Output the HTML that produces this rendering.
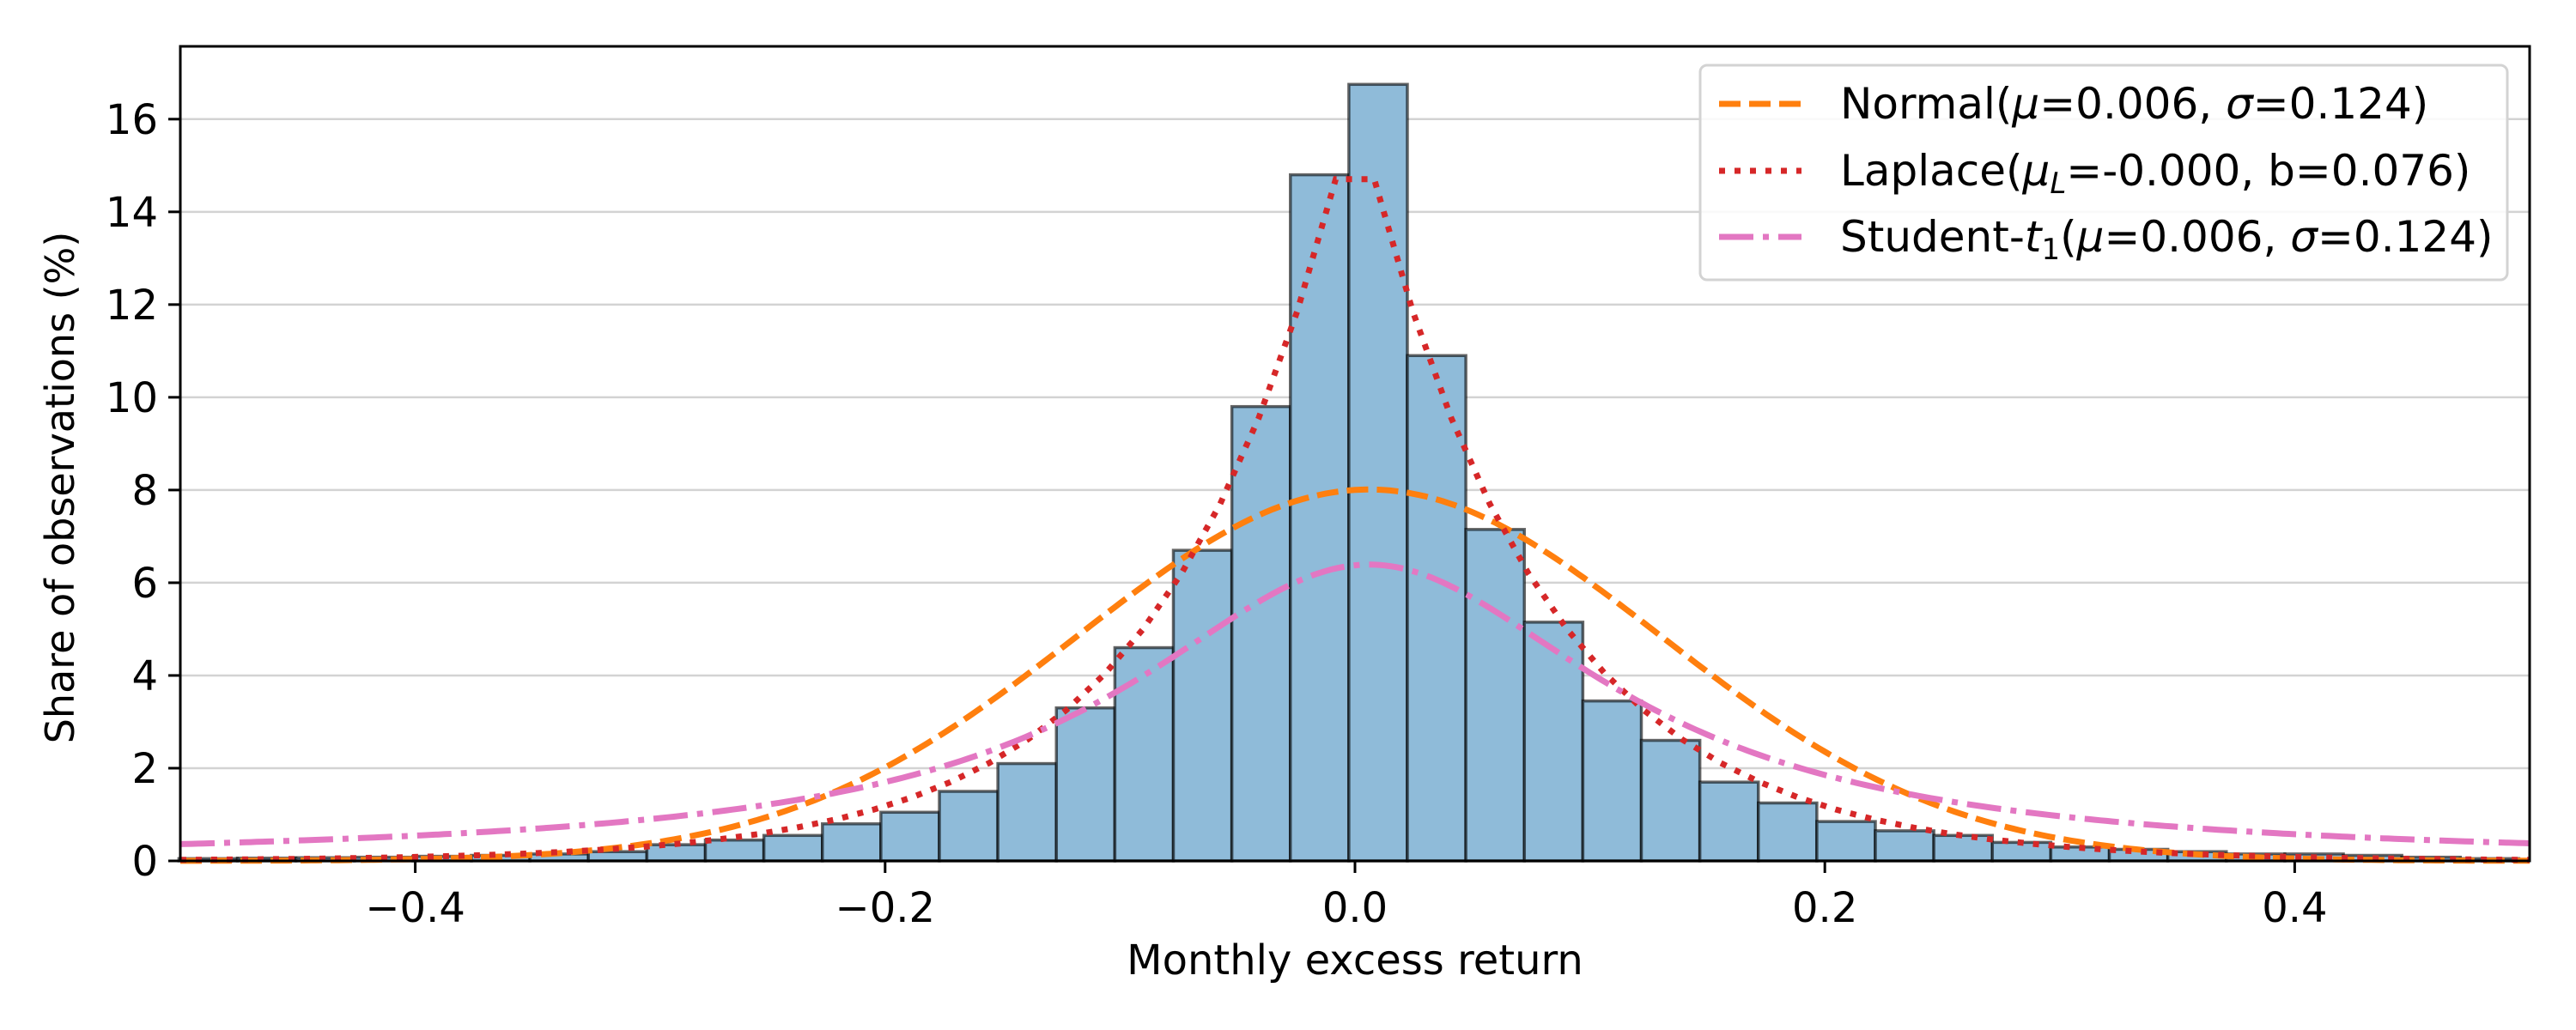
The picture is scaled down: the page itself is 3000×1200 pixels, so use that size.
<!DOCTYPE html>
<html><head><meta charset="utf-8">
<style>
html,body{margin:0;padding:0;background:#fff;}
svg{display:block;font-family:"DejaVu Sans","Liberation Sans",sans-serif;}
</style></head>
<body>
<svg id="chart" width="3000" height="1200" viewBox="0 0 3000 1200" xmlns="http://www.w3.org/2000/svg">
<rect x="0" y="0" width="3000" height="1200" fill="#fff"/>
<g id="grid"></g>
<g id="bars"></g>
<g id="curves"></g>
<rect x="210" y="54" width="2736" height="949" fill="none" stroke="#000" stroke-width="3"/>
<g id="xticks"></g>
<g id="yticks"></g>
<text x="1578" y="1135" font-size="48" text-anchor="middle">Monthly excess return</text>
<text transform="translate(86,568) rotate(-90)" font-size="46" text-anchor="middle">Share of observations (%)</text>
<g>
<rect x="1980" y="76" width="940" height="250" rx="8" fill="#fff" fill-opacity="0.85" stroke="#d3d3d3" stroke-width="3"/>
<line x1="2002" y1="121" x2="2098" y2="121" stroke="#ff7f0e" stroke-width="7" stroke-dasharray="25,10"/>
<text x="2143" y="138" font-size="50">Normal(<tspan font-style="italic">μ</tspan>=0.006, <tspan font-style="italic">σ</tspan>=0.124)</text>
<line x1="2002" y1="199" x2="2098" y2="199" stroke="#d62728" stroke-width="7" stroke-dasharray="7,11"/>
<text x="2143" y="216" font-size="50">Laplace(<tspan font-style="italic">μ</tspan><tspan font-style="italic" font-size="34" dy="9">L</tspan><tspan dy="-9">=-0.000, b=0.076)</tspan></text>
<line x1="2002" y1="276" x2="2098" y2="276" stroke="#e377c2" stroke-width="7" stroke-dasharray="40,11,7,11"/>
<text x="2143" y="293" font-size="50">Student-<tspan font-style="italic">t</tspan><tspan font-size="34" dy="9">1</tspan><tspan dy="-9">(</tspan><tspan font-style="italic">μ</tspan>=0.006, <tspan font-style="italic">σ</tspan>=0.124)</text>
</g>
</svg>
<script>
const binStart = -0.5006;
const binWidth = 0.0249;
const binShares = [0.05,0.06,0.07,0.08,0.1,0.12,0.15,0.2,0.35,0.45,0.55,0.8,1.05,1.5,2.1,3.3,4.6,6.7,9.8,14.8,
  16.75,10.9,7.15,5.15,3.45,2.6,1.7,1.25,0.85,0.65,0.55,0.4,0.3,0.25,0.2,0.15,0.15,0.12,0.08,0.05];
const xTicks = [-0.4,-0.2,0.0,0.2,0.4];
const xTickLabels = ["\u22120.4","\u22120.2","0.0","0.2","0.4"];
const yTicks = [0,2,4,6,8,10,12,14,16];
const normalParams = [0.006, 0.124];
const laplaceParams = [-0.000, 0.076];
const studentParams = [0.006, 0.124];

const NS = "http://www.w3.org/2000/svg";
const X0=210, X1=2946, Y0=1003, Y1=54;
const xmin=-0.5, xmax=0.5, ymin=0, ymax=17.57;
function sx(v){return X0+(v-xmin)/(xmax-xmin)*(X1-X0);}
function sy(v){return Y0-(v-ymin)/(ymax-ymin)*(Y0-Y1);}
function mk(tag, attrs, parent){const e=document.createElementNS(NS,tag);for(const k in attrs)e.setAttribute(k,attrs[k]);parent.appendChild(e);return e;}

const grid=document.getElementById('grid');
const yt=document.getElementById('yticks');
yTicks.forEach(v=>{
  const g=mk('line',{x1:X0,x2:X1,y1:sy(v),y2:sy(v),stroke:'#d3d3d3','stroke-width':2.5},grid);
  
  
  const t=mk('line',{x1:X0-14,x2:X0,y1:sy(v),y2:sy(v),stroke:'#000','stroke-width':3},yt);
  
  
  const l=mk('text',{x:X0-26,y:sy(v)+17,'font-size':48,'text-anchor':'end'},yt);
  l.textContent=String(v);
  
  
});
const xt=document.getElementById('xticks');
xTicks.forEach((v,i)=>{
  const t=mk('line',{x1:sx(v),x2:sx(v),y1:Y0,y2:Y0+14,stroke:'#000','stroke-width':3},xt);
  
  
  const l=mk('text',{x:sx(v),y:Y0+71,'font-size':48,'text-anchor':'middle'},xt);
  l.textContent=xTickLabels[i];
  
  
});
const bars=document.getElementById('bars');
binShares.forEach((v,i)=>{
  const a=binStart+i*binWidth, b=a+binWidth;
  const r=mk('rect',{x:sx(a),y:sy(v),width:sx(b)-sx(a),height:sy(0)-sy(v),fill:'#8fbbd9',stroke:'rgba(0,0,0,0.6)','stroke-width':3.5},bars);
  
  
});
const scale=0.0249*100;
function normal(x){const [m,s]=normalParams;return scale*Math.exp(-0.5*((x-m)/s)**2)/(s*Math.sqrt(2*Math.PI));}
function laplace(x){const [m,b]=laplaceParams;return scale*Math.exp(-Math.abs(x-m)/b)/(2*b);}
function student(x){const [m,s]=studentParams;return scale/(Math.PI*s*(1+((x-m)/s)**2));}
const curves=document.getElementById('curves');
function drawCurve(f,color,dash,name,n){
  let d='';
  for(let i=0;i<=n;i++){const x=xmin+(xmax-xmin)*i/n;d+=(i?'L':'M')+sx(x).toFixed(1)+','+sy(f(x)).toFixed(1);}
  const p=mk('path',{d:d,fill:'none',stroke:color,'stroke-width':7,'stroke-dasharray':dash},curves);
  
  
}
drawCurve(normal,'#ff7f0e','25,10','normal-curve',400);
drawCurve(laplace,'#d62728','7,11','laplace-curve',61);
drawCurve(student,'#e377c2','40,11,7,11','student-t-curve',400);
</script>
</body></html>
